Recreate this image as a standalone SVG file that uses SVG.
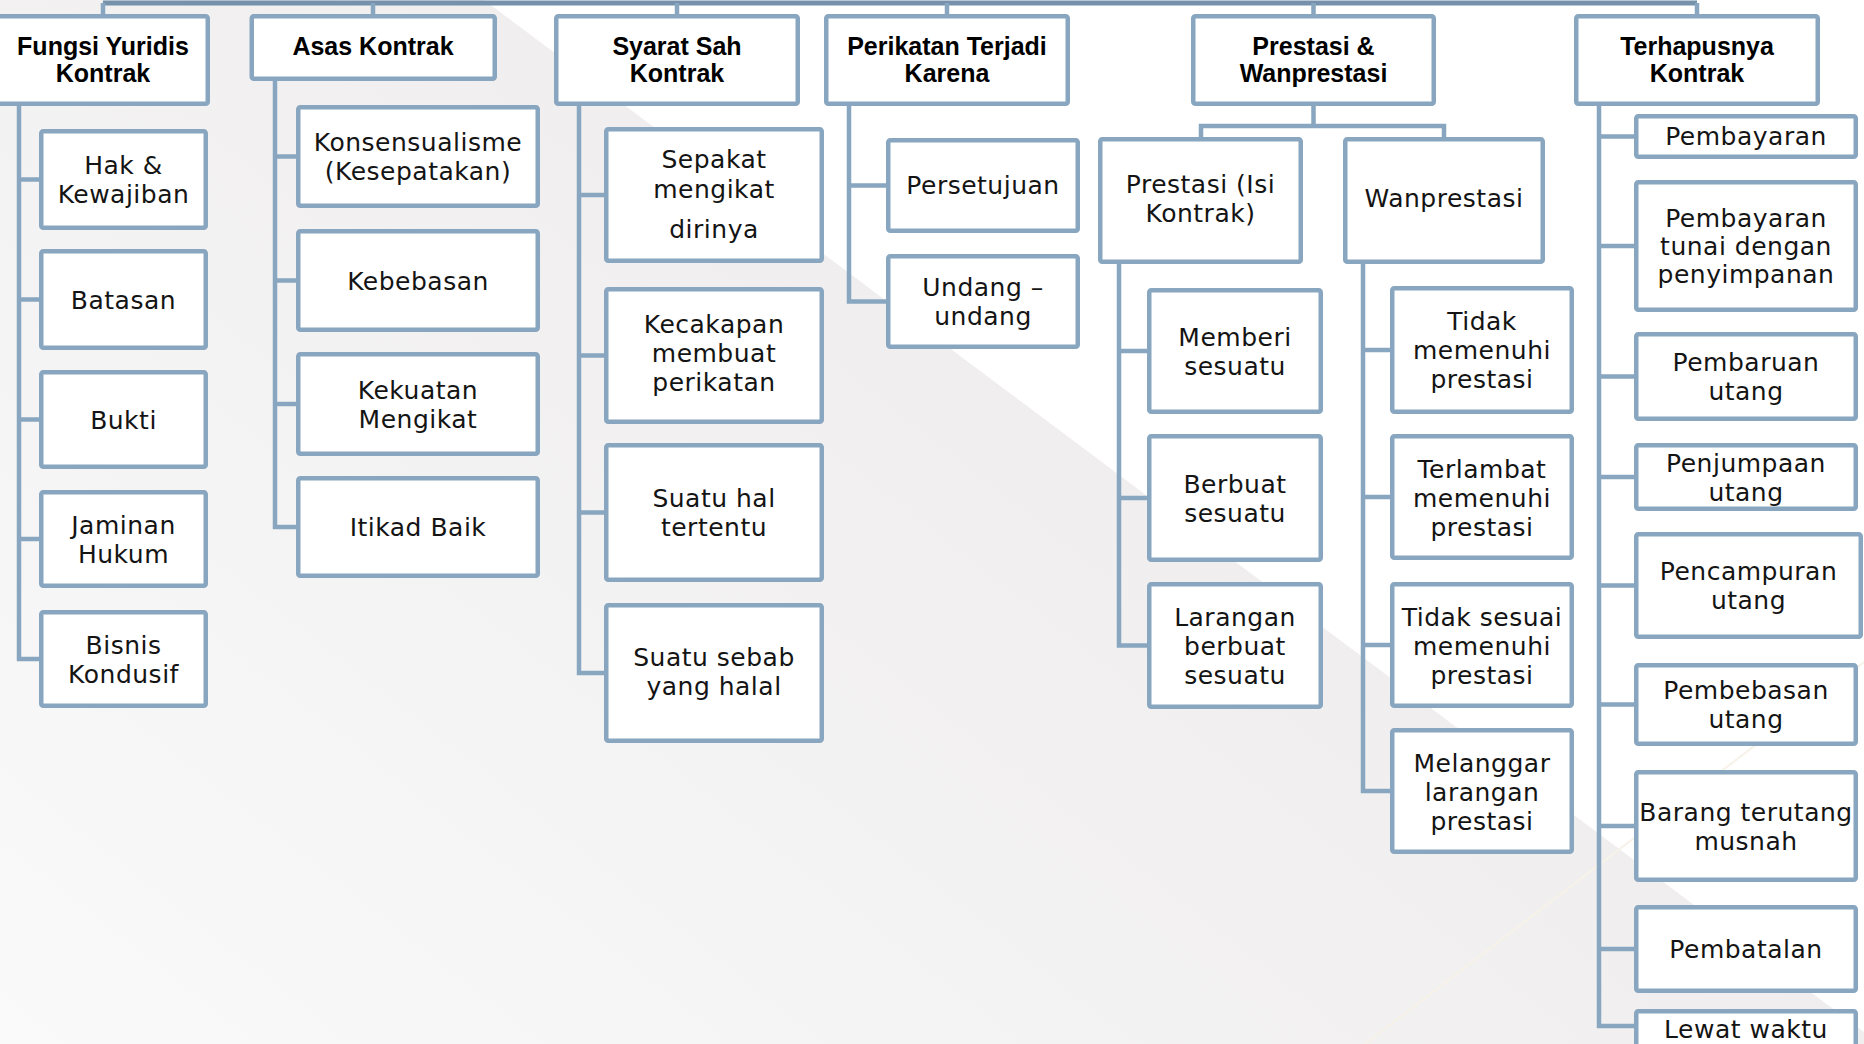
<svg xmlns="http://www.w3.org/2000/svg" width="1864" height="1044" viewBox="0 0 1864 1044">
<defs>
<linearGradient id="bg" gradientUnits="userSpaceOnUse" x1="0" y1="1044" x2="760" y2="80">
<stop offset="0" stop-color="#fafafa"/>
<stop offset="1" stop-color="#efeded"/>
</linearGradient>
<style>
.box{fill:#ffffff;stroke:#88a6c0;stroke-width:4.5}
.c{fill:none;stroke:#88a6c0;stroke-width:4.5;stroke-linejoin:miter}
.bar{fill:none;stroke:#7591ab;stroke-width:5}
.t{font-family:"DejaVu Sans","Liberation Sans",sans-serif;font-size:25px;letter-spacing:0.5px;fill:#141414;text-anchor:middle}
.h{font-family:"Liberation Sans","DejaVu Sans",sans-serif;font-weight:bold;font-size:25px;fill:#000000;text-anchor:middle}
</style>
</defs>
<rect x="0" y="0" width="1864" height="1044" fill="url(#bg)"/>
<polygon points="484,0 1864,0 1864,1032" fill="#ffffff"/>
<line x1="1864" y1="662" x2="1365" y2="1044" stroke="#f7f2e8" stroke-width="2"/>

<g id="connectors">
<path class="bar" d="M103 3 H1697"/>
<path class="c" d="M103 3 V16 M373 3 V16 M677 3 V16 M947 3 V16 M1313.5 3 V16 M1697 3 V16"/>
<path class="c" d="M19 104 V659 H41 M19 179.5 H41 M19 299.5 H41 M19 419.5 H41 M19 539 H41"/>
<path class="c" d="M275 79 V527 H298 M275 156.5 H298 M275 280.5 H298 M275 404 H298"/>
<path class="c" d="M579 104 V673 H606 M579 195 H606 M579 355.5 H606 M579 512.5 H606"/>
<path class="c" d="M849 104 V301.5 H888 M849 185.5 H888"/>
<path class="c" d="M1313.5 104 V126 M1201 139 V126 H1444 V139"/>
<path class="c" d="M1119 262 V645.5 H1149 M1119 351 H1149 M1119 498 H1149"/>
<path class="c" d="M1363 262 V791 H1392 M1363 350 H1392 M1363 497 H1392 M1363 645 H1392"/>
<path class="c" d="M1599 104 V1026 H1636 M1599 136.5 H1636 M1599 246 H1636 M1599 376.5 H1636 M1599 477 H1636 M1599 585.5 H1636 M1599 704.5 H1636 M1599 826 H1636 M1599 949 H1636"/>
</g>

<!-- Fungsi Yuridis Kontrak -->
<g id="fungsi">
<rect class="box" x="-40" y="16.25" width="247.75" height="87.5" rx="2"/>
<text class="h" x="103" y="55">Fungsi Yuridis</text>
<text class="h" x="103" y="82">Kontrak</text>
</g>
<g id="hak">
<rect class="box" x="41.25" y="131.25" width="164.5" height="96.5" rx="2"/>
<text class="t" x="123.5" y="174">Hak &amp;</text>
<text class="t" x="123.5" y="203">Kewajiban</text>
</g>
<g id="batasan">
<rect class="box" x="41.25" y="251.25" width="164.5" height="96.5" rx="2"/>
<text class="t" x="123.5" y="308.5">Batasan</text>
</g>
<g id="bukti">
<rect class="box" x="41.25" y="372.25" width="164.5" height="94.5" rx="2"/>
<text class="t" x="123.5" y="428.5">Bukti</text>
</g>
<g id="jaminan">
<rect class="box" x="41.25" y="492.25" width="164.5" height="93.5" rx="2"/>
<text class="t" x="123.5" y="533.5">Jaminan</text>
<text class="t" x="123.5" y="562.5">Hukum</text>
</g>
<g id="bisnis">
<rect class="box" x="41.25" y="612.25" width="164.5" height="93.5" rx="2"/>
<text class="t" x="123.5" y="653.5">Bisnis</text>
<text class="t" x="123.5" y="682.5">Kondusif</text>
</g>

<!-- Asas Kontrak -->
<g id="asas">
<rect class="box" x="251.75" y="16.25" width="243" height="62.5" rx="2"/>
<text class="h" x="373" y="55">Asas Kontrak</text>
</g>
<g id="konsensualisme">
<rect class="box" x="298.25" y="107.25" width="239.5" height="98.5" rx="2"/>
<text class="t" x="418" y="151">Konsensualisme</text>
<text class="t" x="418" y="180">(Kesepatakan)</text>
</g>
<g id="kebebasan">
<rect class="box" x="298.25" y="231.25" width="239.5" height="98.5" rx="2"/>
<text class="t" x="418" y="289.5">Kebebasan</text>
</g>
<g id="kekuatan">
<rect class="box" x="298.25" y="354.25" width="239.5" height="99.5" rx="2"/>
<text class="t" x="418" y="398.5">Kekuatan</text>
<text class="t" x="418" y="427.5">Mengikat</text>
</g>
<g id="itikad">
<rect class="box" x="298.25" y="478.25" width="239.5" height="97.5" rx="2"/>
<text class="t" x="418" y="536">Itikad Baik</text>
</g>

<!-- Syarat Sah Kontrak -->
<g id="syarat">
<rect class="box" x="556.25" y="16.25" width="241.5" height="87.5" rx="2"/>
<text class="h" x="677" y="55">Syarat Sah</text>
<text class="h" x="677" y="82">Kontrak</text>
</g>
<g id="sepakat">
<rect class="box" x="606.25" y="129.25" width="215.5" height="131.5" rx="2"/>
<text class="t" x="714" y="168">Sepakat</text>
<text class="t" x="714" y="198">mengikat</text>
<text class="t" x="714" y="238">dirinya</text>
</g>
<g id="kecakapan">
<rect class="box" x="606.25" y="289.25" width="215.5" height="132.5" rx="2"/>
<text class="t" x="714" y="333">Kecakapan</text>
<text class="t" x="714" y="362">membuat</text>
<text class="t" x="714" y="391">perikatan</text>
</g>
<g id="suatuhal">
<rect class="box" x="606.25" y="445.25" width="215.5" height="134.5" rx="2"/>
<text class="t" x="714" y="507">Suatu hal</text>
<text class="t" x="714" y="536">tertentu</text>
</g>
<g id="suatusebab">
<rect class="box" x="606.25" y="605.25" width="215.5" height="135.5" rx="2"/>
<text class="t" x="714" y="666">Suatu sebab</text>
<text class="t" x="714" y="695">yang halal</text>
</g>

<!-- Perikatan Terjadi Karena -->
<g id="perikatan">
<rect class="box" x="826.25" y="16.25" width="241.5" height="87.5" rx="2"/>
<text class="h" x="947" y="55">Perikatan Terjadi</text>
<text class="h" x="947" y="82">Karena</text>
</g>
<g id="persetujuan">
<rect class="box" x="888.25" y="140.25" width="189.5" height="90.5" rx="2"/>
<text class="t" x="983" y="194">Persetujuan</text>
</g>
<g id="undang">
<rect class="box" x="888.25" y="256.25" width="189.5" height="90.5" rx="2"/>
<text class="t" x="983" y="296">Undang –</text>
<text class="t" x="983" y="325">undang</text>
</g>

<!-- Prestasi & Wanprestasi -->
<g id="prestasiwan">
<rect class="box" x="1193.25" y="16.25" width="240.5" height="87.5" rx="2"/>
<text class="h" x="1313.5" y="55">Prestasi &amp;</text>
<text class="h" x="1313.5" y="82">Wanprestasi</text>
</g>
<g id="prestasi">
<rect class="box" x="1100.25" y="139.25" width="200.5" height="122.5" rx="2"/>
<text class="t" x="1200.5" y="193">Prestasi (Isi</text>
<text class="t" x="1200.5" y="222">Kontrak)</text>
</g>
<g id="wanprestasi">
<rect class="box" x="1345.25" y="139.25" width="197.5" height="122.5" rx="2"/>
<text class="t" x="1444" y="207">Wanprestasi</text>
</g>
<g id="memberi">
<rect class="box" x="1149.25" y="290.25" width="171.5" height="121.5" rx="2"/>
<text class="t" x="1235" y="345.5">Memberi</text>
<text class="t" x="1235" y="374.5">sesuatu</text>
</g>
<g id="berbuat">
<rect class="box" x="1149.25" y="436.25" width="171.5" height="123.5" rx="2"/>
<text class="t" x="1235" y="492.5">Berbuat</text>
<text class="t" x="1235" y="521.5">sesuatu</text>
</g>
<g id="larangan">
<rect class="box" x="1149.25" y="584.25" width="171.5" height="122.5" rx="2"/>
<text class="t" x="1235" y="626">Larangan</text>
<text class="t" x="1235" y="655">berbuat</text>
<text class="t" x="1235" y="684">sesuatu</text>
</g>
<g id="tidakmemenuhi">
<rect class="box" x="1392.25" y="288.25" width="179.5" height="123.5" rx="2"/>
<text class="t" x="1482" y="330">Tidak</text>
<text class="t" x="1482" y="359">memenuhi</text>
<text class="t" x="1482" y="388">prestasi</text>
</g>
<g id="terlambat">
<rect class="box" x="1392.25" y="436.25" width="179.5" height="121.5" rx="2"/>
<text class="t" x="1482" y="477.5">Terlambat</text>
<text class="t" x="1482" y="506.5">memenuhi</text>
<text class="t" x="1482" y="535.5">prestasi</text>
</g>
<g id="tidaksesuai">
<rect class="box" x="1392.25" y="584.25" width="179.5" height="121.5" rx="2"/>
<text class="t" x="1482" y="625.5">Tidak sesuai</text>
<text class="t" x="1482" y="654.5">memenuhi</text>
<text class="t" x="1482" y="683.5">prestasi</text>
</g>
<g id="melanggar">
<rect class="box" x="1392.25" y="730.25" width="179.5" height="121.5" rx="2"/>
<text class="t" x="1482" y="771.5">Melanggar</text>
<text class="t" x="1482" y="800.5">larangan</text>
<text class="t" x="1482" y="829.5">prestasi</text>
</g>

<!-- Terhapusnya Kontrak -->
<g id="terhapusnya">
<rect class="box" x="1576.25" y="16.25" width="241.5" height="87.5" rx="2"/>
<text class="h" x="1697" y="55">Terhapusnya</text>
<text class="h" x="1697" y="82">Kontrak</text>
</g>
<g id="pembayaran">
<rect class="box" x="1636.25" y="116.25" width="219.5" height="40.5" rx="2"/>
<text class="t" x="1746" y="145">Pembayaran</text>
</g>
<g id="pembayarantunai">
<rect class="box" x="1636.25" y="182.25" width="219.5" height="127.5" rx="2"/>
<text class="t" x="1746" y="227">Pembayaran</text>
<text class="t" x="1746" y="255">tunai dengan</text>
<text class="t" x="1746" y="283">penyimpanan</text>
</g>
<g id="pembaruan">
<rect class="box" x="1636.25" y="334.25" width="219.5" height="84.5" rx="2"/>
<text class="t" x="1746" y="371">Pembaruan</text>
<text class="t" x="1746" y="400">utang</text>
</g>
<g id="penjumpaan">
<rect class="box" x="1636.25" y="445.25" width="219.5" height="63.5" rx="2"/>
<text class="t" x="1746" y="471.5">Penjumpaan</text>
<text class="t" x="1746" y="500.5">utang</text>
</g>
<g id="pencampuran">
<rect class="box" x="1636.25" y="534.25" width="224.5" height="102.5" rx="2"/>
<text class="t" x="1748.5" y="580">Pencampuran</text>
<text class="t" x="1748.5" y="609">utang</text>
</g>
<g id="pembebasan">
<rect class="box" x="1636.25" y="665.25" width="219.5" height="78.5" rx="2"/>
<text class="t" x="1746" y="699">Pembebasan</text>
<text class="t" x="1746" y="728">utang</text>
</g>
<g id="barang">
<rect class="box" x="1636.25" y="772.25" width="219.5" height="107.5" rx="2"/>
<text class="t" x="1746" y="820.5">Barang terutang</text>
<text class="t" x="1746" y="849.5">musnah</text>
</g>
<g id="pembatalan">
<rect class="box" x="1636.25" y="907.25" width="219.5" height="83.5" rx="2"/>
<text class="t" x="1746" y="958">Pembatalan</text>
</g>
<g id="lewatwaktu">
<rect class="box" x="1636.25" y="1011.25" width="219.5" height="60" rx="2"/>
<text class="t" x="1746" y="1038">Lewat waktu</text>
</g>
</svg>
